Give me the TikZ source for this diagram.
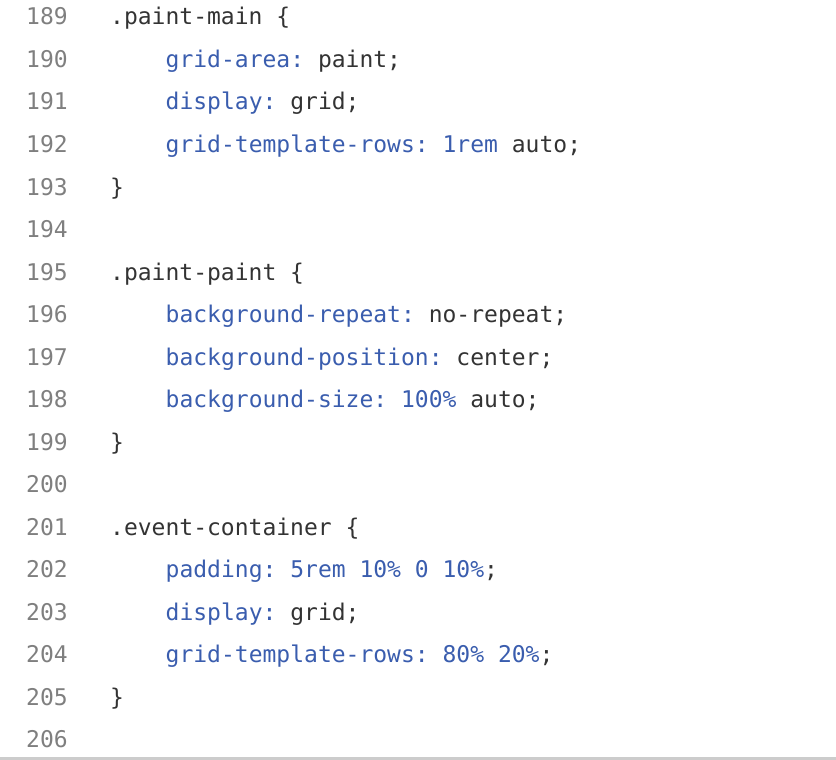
\documentclass[tikz,border=0pt]{standalone}
\usepackage{fontspec}
\setmonofont{DejaVu Sans Mono}
\usetikzlibrary{positioning}

\definecolor{codeblue}{HTML}{3A5DAE}
\definecolor{codetext}{HTML}{333333}
\definecolor{linenum}{HTML}{7F7F7F}
\definecolor{rulegray}{HTML}{CCCCCC}

\newcommand{\cssprop}[1]{\textcolor{codeblue}{#1}}
\newcommand{\cssnum}[1]{\textcolor{codeblue}{#1}}

\begin{document}
\begin{tikzpicture}[x=1pt,y=1pt]
        \tikzstyle{every node}=[inner sep=0pt,anchor=base west,text=codetext,font=\fontsize{23}{23}\selectfont\ttfamily]
        \tikzstyle{lineno}=[text=linenum]
        \useasboundingbox (0,0) rectangle (836,-760);
        \fill[rulegray] (0,-757) rectangle (836,-760);
        % line numbers
        \foreach \n [count=\i from 0] in {189,...,206}
            \node[lineno] (ln\n) at (26,{-25-42.5*\i}) {\n};
        % code
        \node (c189) at (110,-25)     {.paint-main \{};
        \node (c190) at (165.5,-67.5) {\cssprop{grid-area:} paint;};
        \node (c191) at (165.5,-110)  {\cssprop{display:} grid;};
        \node (c192) at (165.5,-152.5){\cssprop{grid-template-rows:} \cssnum{1rem} auto;};
        \node (c193) at (110,-195)    {\}};
        \node (c195) at (110,-280)    {.paint-paint \{};
        \node (c196) at (165.5,-322.5){\cssprop{background-repeat:} no-repeat;};
        \node (c197) at (165.5,-365)  {\cssprop{background-position:} center;};
        \node (c198) at (165.5,-407.5){\cssprop{background-size:} \cssnum{100\%} auto;};
        \node (c199) at (110,-450)    {\}};
        \node (c201) at (110,-535)    {.event-container \{};
        \node (c202) at (165.5,-577.5){\cssprop{padding:} \cssnum{5rem 10\% 0 10\%};};
        \node (c203) at (165.5,-620)  {\cssprop{display:} grid;};
        \node (c204) at (165.5,-662.5){\cssprop{grid-template-rows:} \cssnum{80\% 20\%};};
        \node (c205) at (110,-705)    {\}};
    \end{tikzpicture}
\end{document}
